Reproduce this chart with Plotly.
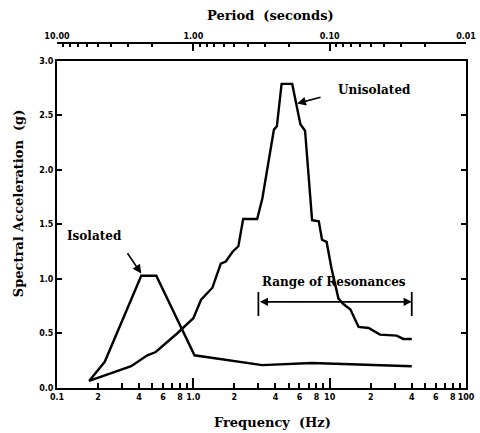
import math
import plotly.graph_objects as go

# ---- data ----
ISO_FREQ = [0.172, 0.224, 0.415, 0.535, 1.02, 3.2, 7.4, 40]
ISO_VAL = [0.065, 0.24, 1.03, 1.03, 0.30, 0.21, 0.23, 0.20]

UNI_FREQ = [0.172, 0.35, 0.46, 0.53, 0.76, 1.0, 1.14, 1.38, 1.59, 1.73, 1.94, 2.14,
            2.32, 2.94, 3.21, 3.90, 4.10, 4.44, 5.31, 5.87, 6.1, 6.6, 7.43, 8.32,
            8.79, 9.5, 10.3, 11.6, 12.6, 14.2, 16.3, 19.3, 23.4, 31, 34.7, 40]
UNI_VAL = [0.065, 0.20, 0.30, 0.33, 0.50, 0.64, 0.81, 0.92, 1.14, 1.16, 1.25, 1.30,
           1.55, 1.55, 1.74, 2.37, 2.40, 2.79, 2.79, 2.52, 2.42, 2.36, 1.54, 1.53,
           1.36, 1.34, 1.10, 0.82, 0.77, 0.72, 0.56, 0.55, 0.49, 0.48, 0.45, 0.45]

FREQ_TICKS = [0.1, 0.2, 0.4, 0.6, 0.8, 1, 2, 4, 6, 8, 10, 20, 40, 60, 80, 100]
FREQ_TICK_TEXT = ["0.1", "2", "4", "6", "8", "1.0", "2", "4", "6", "8", "10",
                  "2", "4", "6", "8", "100"]
FREQ_MINOR = [0.3, 0.5, 0.7, 0.9, 3, 5, 7, 9, 30, 50, 70, 90]
DECADES = [0.1, 1, 10, 100]

PERIOD_MAJOR = [10.0, 1.0, 0.1, 0.01]
PERIOD_MAJOR_TEXT = ["10.00", "1.00", "0.10", "0.01"]
PERIOD_MINOR = [9, 8, 7, 6, 5, 4, 3, 2, 0.9, 0.8, 0.7, 0.6, 0.5, 0.4, 0.3, 0.2,
                0.09, 0.08, 0.07, 0.06, 0.05, 0.04, 0.03, 0.02]

Y_TICKS = [0.0, 0.5, 1.0, 1.5, 2.0, 2.5, 3.0]

RANGE_LO, RANGE_HI, RANGE_Y = 3.0, 40.0, 0.79
ISO_ARROW_TAIL, ISO_ARROW_HEAD = (0.323, 1.25), (0.415, 1.05)
UNI_ARROW_TAIL, UNI_ARROW_HEAD = (8.79, 2.67), (5.77, 2.61)
ISO_LABEL = (0.189, 1.39)
UNI_LABEL = (21.3, 2.73)
RANGE_LABEL = (10.7, 0.975)

SERIF = "DejaVu Serif"
TICKFONT = dict(family="DejaVu Sans", size=8, color="black", weight="bold")
XRANGE = [-1, 2]

fig = go.Figure()
fig.add_trace(go.Scatter(x=ISO_FREQ, y=ISO_VAL, mode="lines",
                         line=dict(color="black", width=2.4), showlegend=False))
fig.add_trace(go.Scatter(x=UNI_FREQ, y=UNI_VAL, mode="lines",
                         line=dict(color="black", width=2.4), showlegend=False))
# dummy empty traces so the overlay axes get drawn
fig.add_trace(go.Scatter(x=[], y=[], xaxis="x2", yaxis="y", showlegend=False))
fig.add_trace(go.Scatter(x=[], y=[], xaxis="x3", yaxis="y", showlegend=False))

fig.update_layout(
    width=480, height=433,
    margin=dict(l=57, r=14, t=43, b=45),
    paper_bgcolor="white", plot_bgcolor="white",
    showlegend=False,
    xaxis=dict(type="log", range=XRANGE, showgrid=False, zeroline=False,
               showline=True, linecolor="black", linewidth=2, mirror=True,
               ticks="inside", ticklen=5, tickwidth=1.5, tickcolor="black",
               tickmode="array", tickvals=FREQ_TICKS, ticktext=FREQ_TICK_TEXT,
               tickfont=TICKFONT, tickangle=0, automargin=False,
               minor=dict(tickmode="array", tickvals=FREQ_MINOR, ticks="inside",
                          ticklen=5, tickwidth=1.5, tickcolor="black", showgrid=False)),
    xaxis3=dict(type="log", range=XRANGE, overlaying="x", anchor="y", side="bottom",
                showgrid=False, zeroline=False, showline=False,
                ticks="inside", ticklen=10, tickwidth=1.5, tickcolor="black",
                tickmode="array", tickvals=DECADES, showticklabels=False),
    xaxis2=dict(type="log", range=XRANGE, overlaying="x", anchor="free", position=1.0,
                side="top", showgrid=False, zeroline=False, showline=True,
                linecolor="black", linewidth=2, tickangle=0, automargin=False,
                ticks="inside", ticklen=7, tickwidth=1.5, tickcolor="black",
                tickmode="array", tickvals=[1 / p for p in PERIOD_MAJOR],
                ticktext=PERIOD_MAJOR_TEXT, tickfont=TICKFONT,
                minor=dict(tickmode="array", tickvals=[1 / p for p in PERIOD_MINOR],
                           ticks="inside", ticklen=3, tickwidth=1.5,
                           tickcolor="black", showgrid=False)),
    yaxis=dict(range=[0, 3.0], domain=[0, 0.948], showgrid=False, zeroline=False,
               showline=True, linecolor="black", linewidth=2, mirror="ticks",
               ticks="inside", ticklen=5, tickwidth=1.5, tickcolor="black",
               tickmode="array", tickvals=Y_TICKS, automargin=False,
               ticktext=[f"{v:.1f}" for v in Y_TICKS], tickfont=TICKFONT),
)

title_font = dict(family=SERIF, size=13, color="black", weight="bold")
common = dict(xref="paper", yref="paper", showarrow=False, font=title_font,
              xanchor="center", yanchor="middle")
fig.add_annotation(text="Period  (seconds)", x=0.521, y=1.081, **common)
fig.add_annotation(text="Frequency  (Hz)", x=0.526, y=-0.099, **common)
fig.add_annotation(text="Spectral Acceleration  (g)", x=-0.095, y=0.536,
                   textangle=-90, **common)

lab_font = dict(family=SERIF, size=12, color="black", weight="bold")
fig.add_annotation(text="Isolated", x=math.log10(ISO_LABEL[0]), y=ISO_LABEL[1],
                   xref="x", yref="y", showarrow=False, font=lab_font)
fig.add_annotation(text="Unisolated", x=math.log10(UNI_LABEL[0]), y=UNI_LABEL[1],
                   xref="x", yref="y", showarrow=False, font=lab_font)
fig.add_annotation(text="Range of Resonances", x=math.log10(RANGE_LABEL[0]),
                   y=RANGE_LABEL[1], xref="x", yref="y", showarrow=False, font=lab_font)

for tail, head in [(ISO_ARROW_TAIL, ISO_ARROW_HEAD), (UNI_ARROW_TAIL, UNI_ARROW_HEAD)]:
    fig.add_annotation(text="", x=math.log10(head[0]), y=head[1],
                       ax=math.log10(tail[0]), ay=tail[1], xref="x", yref="y",
                       axref="x", ayref="y", showarrow=True, arrowhead=2,
                       arrowsize=1.1, arrowwidth=1.6, arrowcolor="black")

# range of resonances bar
fig.add_annotation(text="", x=math.log10(RANGE_HI), y=RANGE_Y,
                   ax=math.log10(RANGE_LO), ay=RANGE_Y, xref="x", yref="y",
                   axref="x", ayref="y", showarrow=True, arrowhead=2,
                   arrowside="end+start", arrowsize=0.9, arrowwidth=1.8,
                   arrowcolor="black")
for xv in (RANGE_LO, RANGE_HI):
    fig.add_shape(type="line", xref="x", yref="y", x0=xv, x1=xv,
                  y0=RANGE_Y - 0.13, y1=RANGE_Y + 0.09,
                  line=dict(color="black", width=1.8))

fig.write_html("out.html")
